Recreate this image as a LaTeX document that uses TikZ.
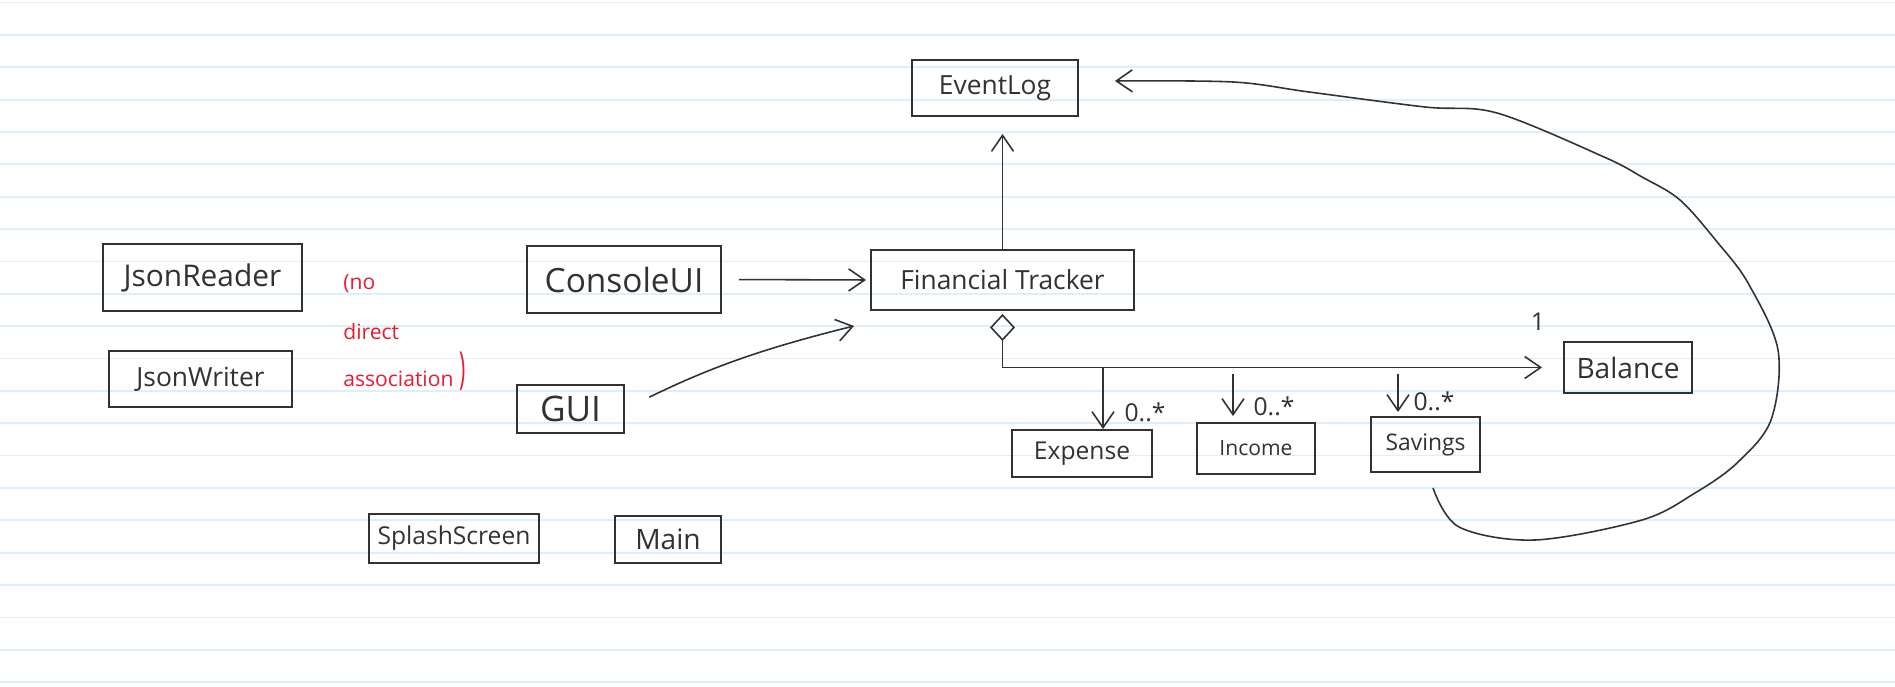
\documentclass[tikz,border=0pt]{standalone}
\usepackage{fontspec}
\setmainfont{Open Sans}
\usetikzlibrary{arrows.meta}
\definecolor{inkgray}{RGB}{50,50,50}
\definecolor{paperline}{RGB}{222,238,250}
\definecolor{notered}{RGB}{232,28,48}
\begin{document}
\begin{tikzpicture}[
		cls/.style={draw=inkgray,line width=1.1pt,inner sep=0pt,text=inkgray,font=\fontsize{15}{18}\selectfont},
		assoc/.style={draw=inkgray,line width=.9pt,-{Straight Barb[length=3.2mm,width=4.4mm]}},
		aggr/.style={draw=inkgray,line width=.9pt,{Diamond[open,length=5.4mm,width=5mm]}-{Straight Barb[length=3.2mm,width=4.4mm]}},
		mult/.style={text=inkgray,font=\fontsize{14}{16}\selectfont},
		note/.style={text=notered,inner sep=0pt,anchor=west,font=\fontsize{12}{14}\selectfont}]
		\fill[white](0,0)rectangle(37.9,13.74);
		\useasboundingbox(0,0)rectangle(37.9,13.74);
		\foreach\k in{0,...,21}
			\draw[paperline,line width=1pt](0,{13.74-0.02*(2.6+32.35*\k)})--(37.9,{13.74-0.02*(2.6+32.35*\k)});
		\node[cls,minimum width=3.32cm,minimum height=1.12cm](eventlog)at(19.90,11.98){EventLog};
		\node[cls,minimum width=5.26cm,minimum height=1.20cm](tracker)at(20.05,8.14){Financial Tracker};
		\node[cls,minimum width=2.56cm,minimum height=1.02cm,font=\fontsize{16}{18}\selectfont](balance)at(32.56,6.39){Balance};
		\node[cls,minimum width=2.80cm,minimum height=0.94cm,font=\fontsize{14}{16}\selectfont](expense)at(21.64,4.67){Expense};
		\node[cls,minimum width=2.36cm,minimum height=1.02cm,font=\fontsize{12}{14}\selectfont](income)at(25.12,4.77){Income};
		\node[cls,minimum width=2.18cm,minimum height=1.10cm,font=\fontsize{13}{15}\selectfont](savings)at(28.51,4.85){Savings};
		\node[cls,minimum width=3.98cm,minimum height=1.34cm,font=\fontsize{17}{20}\selectfont](jsonreader)at(4.05,8.19){JsonReader};
		\node[cls,minimum width=3.66cm,minimum height=1.12cm](jsonwriter)at(4.01,6.16){JsonWriter};
		\node[cls,minimum width=3.88cm,minimum height=1.34cm,font=\fontsize{19}{22}\selectfont](consoleui)at(12.48,8.15){ConsoleUI};
		\node[cls,minimum width=2.14cm,minimum height=0.96cm,font=\fontsize{20}{22}\selectfont](gui)at(11.41,5.56){GUI};
		\node[cls,minimum width=3.40cm,minimum height=0.98cm,font=\fontsize{14}{16}\selectfont](splash)at(9.08,2.97){SplashScreen};
		\node[cls,minimum width=2.12cm,minimum height=0.94cm,font=\fontsize{16}{18}\selectfont](main)at(13.36,2.95){Main};
		\node[note](no)at(6.86,8.06){(no};
		\node[note](direct)at(6.86,7.10){direct};
		\node[note](association)at(6.86,6.16){association};
		\node[text=notered,inner sep=0pt,font=\fontsize{12}{14}\selectfont](paren)at(9.26,6.32){\scalebox{1}[2.1]{)}};
		\draw[assoc,shorten >=.34cm](tracker.north)--(tracker.north|-eventlog.south);
		\draw[aggr,shorten <=.06cm,shorten >=.42cm](tracker.south)|-(balance.west);
		\coordinate(exptop)at([xshift=.42cm]expense.north);
		\coordinate(inctop)at([xshift=-.46cm,yshift=.12cm]income.north);
		\coordinate(savtop)at([xshift=-.55cm,yshift=.08cm]savings.north);
		\draw[assoc](exptop|-balance.west)--(exptop);
		\draw[assoc]([yshift=.84cm]inctop)--(inctop);
		\draw[assoc]([yshift=.76cm]savtop)--(savtop);
		\node[mult](expmult)at(22.90,5.50){0..*};
		\node[mult](incmult)at(25.48,5.62){0..*};
		\node[mult](savmult)at(28.68,5.72){0..*};
		\node[mult](balmult)at(30.76,7.30){1};
		\draw[assoc,shorten <=.34cm,shorten >=.08cm](consoleui.east)--(tracker.west);
		\draw[assoc,shorten <=.54cm](gui.east)to[bend left=6]([shift={(-.32,-.30)}]tracker.south west);
		\draw[assoc]plot[smooth,tension=.55]coordinates{([xshift=.15cm,yshift=-.30cm]savings.south)(29.18,3.20)(30.70,2.94)(32.84,3.34)(33.90,3.88)(34.74,4.48)(35.42,5.34)(35.56,6.74)(34.96,8.08)(34.36,8.88)(33.60,9.74)(32.84,10.20)(32.08,10.60)(29.94,11.48)(28.50,11.60)(26.18,11.90)(24.66,12.10)([xshift=.72cm,yshift=.14cm]eventlog.east)};
	\end{tikzpicture}
\end{document}
